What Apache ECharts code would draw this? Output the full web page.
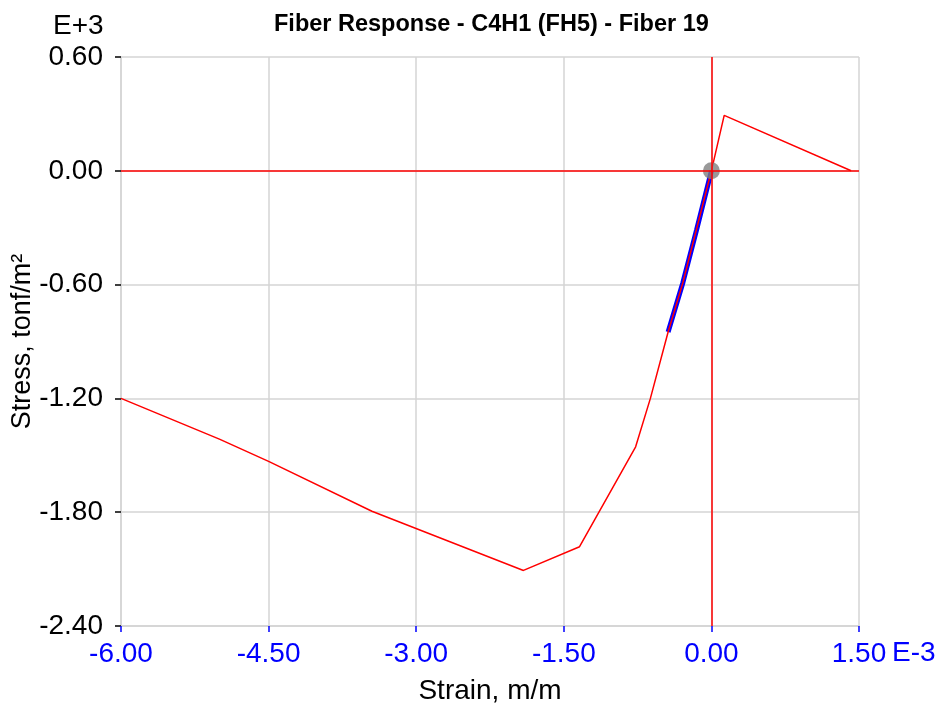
<!DOCTYPE html>
<html>
<head>
<meta charset="utf-8">
<script src="https://cdn.jsdelivr.net/npm/echarts@6/dist/echarts.min.js"></script>
<style>
  html, body { margin: 0; padding: 0; background: #fff; }
  #chart { width: 942px; height: 711px; }
</style>
</head>
<body>
<div id="chart"></div>
<script>
// Envelope stress-strain path of the fibre (strain in E-3, stress in E+3)
const envelopeStrain = [-6.00, -5.00, -4.50, -3.45, -1.91, -1.34, -0.77, -0.62, -0.44, -0.29, 0.00, 0.13, 1.42];
const envelopeStress = [-1.200, -1.415, -1.532, -1.795, -2.107, -1.982, -1.455, -1.200, -0.850, -0.590, 0.000, 0.292, 0.000];

// Response history actually traversed by the fibre
const historyStrain = [0.00, -0.15, -0.29, -0.44];
const historyStress = [0.00, -0.31, -0.59, -0.85];

// Current state
const currentPoint = [0.00, 0.00];

// Axis settings
const xMin = -6.0, xMax = 1.5, xStep = 1.5;
const yMin = -2.4, yMax = 0.6, yStep = 0.6;

const font = 'Liberation Sans, Arial, sans-serif';
const pair = (xs, ys) => xs.map((x, i) => [x, ys[i]]);

const chart = echarts.init(document.getElementById('chart'), null, { renderer: 'canvas' });

chart.setOption({
  animation: false,
  backgroundColor: '#ffffff',
  title: {
    text: 'Fiber Response - C4H1 (FH5) - Fiber 19',
    left: 269,
    top: 8,
    textStyle: { fontFamily: font, fontSize: 23.5, fontWeight: 'bold', color: '#000' }
  },
  grid: {
    left: 121, right: 83, top: 57, bottom: 85,
    containLabel: false,
    outerBoundsMode: 'none'
  },
  xAxis: {
    type: 'value',
    min: xMin, max: xMax, interval: xStep,
    name: 'Strain, m/m',
    nameLocation: 'middle',
    nameGap: 51,
    nameMoveOverlap: false,
    nameTextStyle: { fontFamily: font, fontSize: 28, color: '#000' },
    axisLine: { show: true, onZero: false, lineStyle: { color: '#d4d4d4', width: 1.5 } },
    axisTick: { show: true, length: 6, lineStyle: { color: '#0000ff', width: 1.5 } },
    axisLabel: {
      fontFamily: font, fontSize: 28, color: '#0000ff', margin: 14,
      formatter: v => v.toFixed(2)
    },
    splitLine: { show: true, lineStyle: { color: '#d4d4d4', width: 1.5 } }
  },
  yAxis: {
    type: 'value',
    min: yMin, max: yMax, interval: yStep,
    name: 'Stress, tonf/m²',
    nameLocation: 'middle',
    nameGap: 85,
    nameMoveOverlap: false,
    nameTextStyle: { fontFamily: font, fontSize: 27, color: '#000' },
    axisLine: { show: true, onZero: false, lineStyle: { color: '#d4d4d4', width: 1.5 } },
    axisTick: { show: true, length: 6, lineStyle: { color: '#000', width: 1.5 } },
    axisLabel: {
      fontFamily: font, fontSize: 28, color: '#000', margin: 18,
      formatter: v => v.toFixed(2)
    },
    splitLine: { show: true, lineStyle: { color: '#d4d4d4', width: 1.5 } }
  },
  graphic: [
    { type: 'text', left: 53, top: 12,
      style: { text: 'E+3', fontFamily: font, fontSize: 28, fill: '#000' } },
    { type: 'text', left: 892, top: 639,
      style: { text: 'E-3', fontFamily: font, fontSize: 28, fill: '#0000ff' } }
  ],
  series: [
    {
      name: 'history',
      type: 'line',
      data: pair(historyStrain, historyStress),
      showSymbol: false,
      lineStyle: { color: '#0000ff', width: 5 },
      z: 2
    },
    {
      name: 'envelope',
      type: 'line',
      data: pair(envelopeStrain, envelopeStress),
      showSymbol: false,
      lineStyle: { color: '#ff0000', width: 1.5 },
      markLine: {
        silent: true,
        symbol: 'none',
        label: { show: false },
        lineStyle: { color: '#ff0000', width: 1.5, type: 'solid' },
        data: [{ xAxis: 0 }, { yAxis: 0 }]
      },
      z: 3
    },
    {
      name: 'current',
      type: 'scatter',
      data: [currentPoint],
      symbol: 'circle',
      symbolSize: 17,
      itemStyle: { color: '#808080' },
      z: 4
    }
  ]
});
</script>
</body>
</html>
